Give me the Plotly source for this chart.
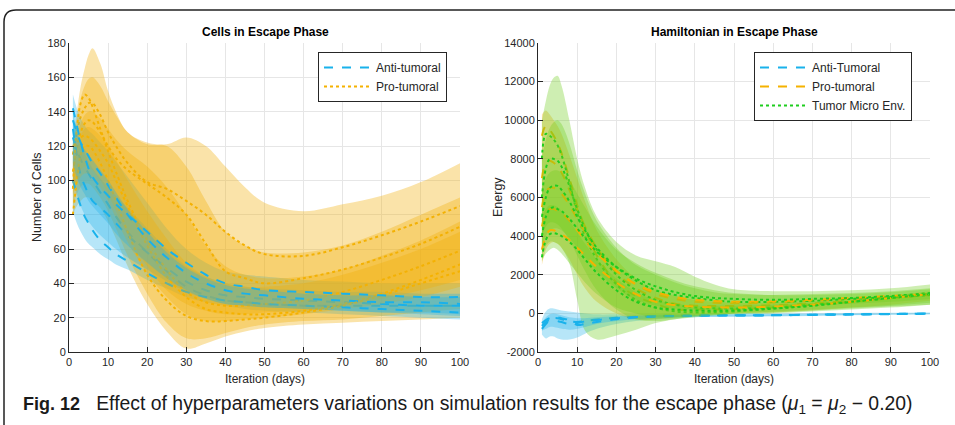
import plotly.graph_objects as go
from itertools import zip_longest

# ---------------- data ----------------
X = [1, 2, 3, 4, 5, 6, 8, 10, 12, 15, 20, 25, 30, 35, 40, 45, 50, 60, 70, 80, 90, 100]

# Left panel: Cells in Escape Phase
anti_lines = [
    [125, 118, 112, 108, 104, 100, 93, 86, 79, 70, 58, 47, 38, 33, 30, 29, 28, 27, 27, 27, 27, 27],
    [130, 115, 103, 97, 92, 88, 84, 80, 75, 68, 58, 49, 41, 36, 33, 32, 31, 30, 29, 28, 27, 27],
    [100, 92, 85, 79, 75, 71, 65, 61, 57, 53, 46, 40, 35, 32, 30, 29, 28, 27, 26, 25, 24, 23],
    [135, 128, 122, 118, 114, 110, 104, 97, 90, 80, 66, 55, 46, 40, 36, 34, 33, 31, 30, 29, 29, 28],
    [142, 132, 122, 114, 107, 102, 96, 91, 86, 80, 70, 60, 52, 45, 40, 38, 36, 35, 34, 33, 32, 32],
]
anti_bands = [
    ([82, 75, 70, 66, 63, 61, 57, 54, 51, 48, 42, 37, 32, 29, 27, 25, 24, 23, 22, 21, 20, 19],
     [150, 142, 136, 132, 129, 127, 122, 117, 111, 102, 87, 72, 60, 52, 47, 45, 44, 42, 41, 40, 40, 40]),
    ([100, 92, 85, 80, 76, 73, 68, 64, 60, 55, 48, 41, 35, 31, 28, 27, 26, 25, 24, 23, 22, 21],
     [140, 130, 122, 116, 111, 107, 101, 96, 91, 84, 72, 60, 50, 44, 40, 38, 37, 36, 35, 35, 34, 34]),
    None,
    None,
    ([110, 102, 96, 92, 88, 85, 80, 75, 69, 62, 52, 43, 36, 31, 28, 27, 26, 25, 24, 23, 23, 22],
     [135, 128, 122, 118, 115, 112, 106, 100, 93, 83, 70, 58, 49, 43, 39, 37, 36, 34, 33, 33, 32, 32]),
]
pro_lines = [
    [115, 128, 137, 142, 145, 145, 138, 128, 120, 110, 99, 95, 88, 80, 70, 62, 57, 56, 61, 68, 76, 85],
    [105, 118, 128, 133, 135, 134, 128, 120, 113, 106, 98, 90, 80, 63, 47, 43, 40, 43, 48, 55, 63, 73],
    [95, 130, 145, 150, 148, 143, 130, 117, 105, 88, 65, 48, 35, 29, 27, 27, 28, 30, 35, 42, 50, 59],
    [120, 122, 125, 126, 125, 123, 117, 110, 100, 85, 62, 44, 32, 25, 23, 22, 22, 24, 28, 34, 42, 51],
    [80, 100, 115, 120, 120, 118, 110, 100, 88, 70, 45, 30, 21, 18, 18, 19, 20, 23, 27, 33, 40, 47],
]
pro_bands = [
    ([80, 85, 88, 90, 90, 88, 84, 76, 66, 50, 28, 12, 2, 5, 9, 12, 14, 16, 17, 18, 19, 20],
     [125, 140, 155, 165, 173, 177, 168, 152, 140, 128, 122, 121, 125, 120, 108, 96, 87, 82, 86, 91, 99, 110]),
    ([85, 92, 96, 98, 98, 96, 90, 82, 72, 56, 34, 17, 8, 8, 11, 14, 16, 18, 19, 21, 23, 25],
     [120, 135, 148, 155, 159, 160, 155, 146, 138, 128, 121, 120, 108, 88, 70, 62, 58, 58, 62, 70, 80, 90]),
    ([92, 98, 102, 104, 104, 102, 96, 88, 78, 64, 46, 32, 22, 18, 18, 19, 20, 22, 25, 28, 32, 38],
     [112, 125, 133, 138, 140, 140, 136, 130, 124, 117, 108, 96, 80, 62, 50, 45, 43, 44, 48, 56, 65, 76]),
    ([95, 102, 106, 108, 108, 106, 100, 92, 82, 68, 50, 36, 28, 24, 22, 22, 23, 24, 27, 31, 36, 42],
     [108, 118, 126, 130, 131, 130, 126, 120, 112, 100, 82, 66, 52, 44, 40, 38, 38, 40, 45, 52, 60, 70]),
    None,
]

# Right panel: Hamiltonian in Escape Phase
h_anti_lines = [
    [-800, -550, -350, -250, -250, -300, -400, -450, -400, -320, -230, -180, -140, -120, -110, -100, -100, -90, -70, -50, -30, -10],
    [-500, -350, -250, -200, -200, -250, -350, -600, -550, -450, -300, -220, -170, -140, -120, -110, -110, -100, -80, -60, -40, -20],
    [-650, -450, -350, -350, -400, -450, -550, -500, -420, -350, -250, -190, -150, -130, -115, -105, -100, -90, -70, -50, -30, -10],
]
h_anti_bands = [
    ([-1100, -1300, -1200, -1200, -1300, -1350, -1350, -1250, -1050, -800, -550, -400, -300, -250, -200, -190, -180, -160, -130, -100, -70, -50],
     [-300, 100, 250, 250, 200, 150, 100, 50, 0, -50, -50, -50, -40, -30, -20, -10, 0, 0, 10, 20, 30, 40]),
    ([-900, -800, -700, -700, -750, -800, -850, -800, -700, -550, -400, -300, -250, -200, -180, -170, -160, -140, -110, -80, -60, -40],
     [-500, -200, -50, 0, -50, -100, -200, -250, -250, -200, -150, -120, -100, -90, -80, -70, -60, -50, -40, -30, -20, -10]),
    None,
]
h_pro_lines = [
    [9200, 9700, 9500, 9200, 8800, 8300, 7000, 5600, 4400, 3000, 1600, 900, 500, 200, 200, 200, 220, 300, 450, 600, 780, 950],
    [7000, 7800, 7900, 7800, 7600, 7300, 6400, 5400, 4500, 3400, 2100, 1300, 800, 500, 400, 380, 380, 420, 520, 650, 800, 950],
    [5500, 6300, 6500, 6500, 6400, 6200, 5600, 4900, 4200, 3300, 2200, 1500, 1000, 750, 600, 550, 520, 560, 650, 750, 850, 1000],
    [4500, 5200, 5400, 5400, 5300, 5200, 4800, 4300, 3800, 3100, 2200, 1500, 1100, 850, 700, 640, 600, 620, 700, 800, 900, 1000],
    [3300, 4000, 4300, 4300, 4200, 4100, 3800, 3400, 3000, 2400, 1600, 1000, 600, 420, 350, 320, 300, 350, 450, 600, 800, 1000],
]
h_pro_bands = [
    ([2500, 3300, 3600, 3700, 3600, 3400, 2800, 2000, 1300, 600, 0, -300, -300, -200, -100, -50, 0, 50, 150, 300, 450, 650],
     [10300, 10500, 10300, 10000, 9700, 9300, 8200, 7000, 5800, 4300, 2800, 1800, 1200, 900, 700, 600, 550, 550, 650, 800, 950, 1150]),
    None, None, None, None,
]
h_tme_lines = [
    [8000, 9300, 9200, 9000, 8700, 8200, 6800, 5200, 4000, 2800, 1500, 700, 300, 100, 50, 60, 100, 250, 400, 600, 800, 1000],
    [6000, 7500, 8000, 8000, 7900, 7600, 6600, 5400, 4400, 3300, 2000, 1200, 700, 450, 300, 260, 250, 300, 450, 600, 800, 950],
    [5000, 6000, 6500, 6600, 6600, 6400, 5800, 5000, 4300, 3400, 2400, 1700, 1200, 950, 800, 680, 600, 600, 650, 750, 850, 1000],
    [4000, 5000, 5400, 5500, 5400, 5300, 4900, 4400, 3900, 3200, 2400, 1800, 1400, 1100, 900, 800, 750, 700, 750, 800, 900, 1050],
    [2900, 3800, 4100, 4150, 4100, 4000, 3700, 3300, 2800, 2100, 1200, 600, 300, 200, 150, 140, 150, 250, 400, 600, 800, 1000],
]
h_tme_bands = [
    ([3000, 3500, 3700, 3700, 3600, 3400, 2600, 700, -900, -1350, -1150, -850, -500, -300, -150, -50, 0, 50, 150, 250, 350, 450],
     [10000, 11000, 11800, 12200, 12300, 11800, 10000, 8000, 6500, 5000, 3700, 3000, 2700, 2400, 1900, 1500, 1250, 1150, 1150, 1200, 1300, 1500]),
    ([4000, 4500, 4700, 4700, 4600, 4400, 3800, 3000, 2200, 1200, 200, -300, -400, -300, -200, -100, 0, 100, 200, 300, 400, 550],
     [8000, 9000, 9600, 9900, 10000, 9800, 8800, 7400, 6200, 4800, 3400, 2500, 2000, 1600, 1300, 1100, 1000, 950, 1000, 1050, 1150, 1300]),
    ([3500, 4000, 4300, 4400, 4400, 4300, 3900, 3400, 2900, 2200, 1300, 700, 400, 250, 200, 200, 250, 300, 400, 500, 600, 750],
     [6500, 7000, 7300, 7400, 7400, 7300, 6900, 6200, 5500, 4500, 3300, 2600, 2100, 1700, 1400, 1200, 1050, 950, 950, 1000, 1100, 1250]),
    ([2700, 3100, 3300, 3400, 3300, 3100, 2600, 2100, 1600, 1000, 300, 0, -200, -200, -150, -100, -50, 0, 100, 200, 300, 450],
     [5000, 5400, 5600, 5600, 5500, 5300, 4800, 4200, 3600, 2800, 1800, 1100, 700, 500, 400, 400, 400, 450, 550, 650, 800, 950]),
    None,
]

X_TICKS = list(range(0, 101, 10))
Y1_TICKS = list(range(0, 181, 20))
Y2_TICKS = list(range(-2000, 14001, 2000))
Y2_TICKTEXT = [str(v) for v in Y2_TICKS]

# ---------------- styles ----------------
BLUE = "rgb(25,178,235)"
BLUE_F = "rgba(30,176,232,0.32)"
ORANGE = "rgb(245,178,0)"
ORANGE_F = "rgba(240,176,10,0.35)"
GREEN = "rgb(30,205,30)"
GREEN_F = "rgba(110,205,30,0.34)"
TXT = "#262626"
FONT = "Liberation Sans, Arial, sans-serif"

fig = go.Figure()


def add_band(band, fill, xa, ya):
    if band is None:
        return
    lo, hi = band
    fig.add_trace(go.Scatter(x=X, y=lo, mode="lines", line=dict(width=0, shape="spline"),
                             showlegend=False, hoverinfo="skip", xaxis=xa, yaxis=ya))
    fig.add_trace(go.Scatter(x=X, y=hi, mode="lines", line=dict(width=0, shape="spline"),
                             fill="tonexty", fillcolor=fill, showlegend=False,
                             hoverinfo="skip", xaxis=xa, yaxis=ya))


def add_line(y, color, dash, name, xa, ya, legend):
    if y is None:
        return
    fig.add_trace(go.Scatter(x=X, y=y, mode="lines", name=name,
                             line=dict(color=color, width=2, dash=dash, shape="spline"),
                             showlegend=False, legend=legend, xaxis=xa, yaxis=ya))


# Left panel
for pb, pl, ab, al in zip_longest(pro_bands, pro_lines, anti_bands, anti_lines):
    add_band(pb, ORANGE_F, "x", "y")
    add_line(pl, ORANGE, "dot", "Pro-tumoral", "x", "y", "legend")
    add_band(ab, BLUE_F, "x", "y")
    add_line(al, BLUE, "dash", "Anti-tumoral", "x", "y", "legend")

for nm, col, ds in [("Anti-tumoral", BLUE, "dash"), ("Pro-tumoral", ORANGE, "dot")]:
    fig.add_trace(go.Scatter(x=[None], y=[None], mode="lines", name=nm,
                             line=dict(color=col, width=2, dash=ds), legend="legend",
                             xaxis="x", yaxis="y"))

# Right panel
for ab, al, pb, pl, tb, tl in zip_longest(h_anti_bands, h_anti_lines, h_pro_bands,
                                          h_pro_lines, h_tme_bands, h_tme_lines):
    add_band(ab, BLUE_F, "x2", "y2")
    add_line(al, BLUE, "dash", "Anti-Tumoral", "x2", "y2", "legend2")
    add_band(pb, ORANGE_F, "x2", "y2")
    add_line(pl, ORANGE, "dash", "Pro-tumoral", "x2", "y2", "legend2")
    add_band(tb, GREEN_F, "x2", "y2")
    add_line(tl, GREEN, "dot", "Tumor Micro Env.", "x2", "y2", "legend2")

for nm, col, ds in [("Anti-Tumoral", BLUE, "dash"), ("Pro-tumoral", ORANGE, "dash"),
                    ("Tumor Micro Env.", GREEN, "dot")]:
    fig.add_trace(go.Scatter(x=[None], y=[None], mode="lines", name=nm,
                             line=dict(color=col, width=2, dash=ds), legend="legend2",
                             xaxis="x2", yaxis="y2"))

W, H = 955, 425


def px(v):
    return v / W


def py(v):
    return 1 - v / H


ax_common = dict(showgrid=True, gridcolor="#e6e6e6", gridwidth=1, showline=True,
                 linecolor=TXT, linewidth=1, ticks="inside", ticklen=5, tickcolor=TXT,
                 tickfont=dict(family=FONT, size=11, color=TXT), zeroline=False, mirror=False)

Y_BOT, Y_TOP = 352, 43
leg_common = dict(xanchor="left", yanchor="top", bgcolor="white", bordercolor=TXT, borderwidth=1,
                  font=dict(family=FONT, size=12, color=TXT), tracegroupgap=0, traceorder="normal",
                  itemwidth=47)
fig.update_layout(
    width=W, height=H, margin=dict(l=0, r=0, t=0, b=0, autoexpand=False),
    paper_bgcolor="white", plot_bgcolor="white",
    xaxis=dict(domain=[px(69), px(460)], range=[0, 100], tickvals=X_TICKS, anchor="y", **ax_common),
    yaxis=dict(domain=[py(Y_BOT), py(Y_TOP)], range=[0, 180], tickvals=Y1_TICKS, anchor="x", **ax_common),
    xaxis2=dict(domain=[px(538), px(930)], range=[0, 100], tickvals=X_TICKS, anchor="y2", **ax_common),
    yaxis2=dict(domain=[py(Y_BOT), py(Y_TOP)], range=[-2000, 14000], tickvals=Y2_TICKS,
                ticktext=Y2_TICKTEXT, anchor="x2", **ax_common),
    legend=dict(x=px(318), y=py(52), **leg_common),
    legend2=dict(x=px(754), y=py(52), **leg_common),
    showlegend=True,
)


def A(text, x, y, size, color=TXT, angle=0, xanchor="center", family=FONT):
    return dict(text=text, x=px(x), y=py(y), xref="paper", yref="paper", xanchor=xanchor,
                yanchor="middle", textangle=angle, showarrow=False,
                font=dict(family=family, size=size, color=color))


ann = [
    A("<b>Cells in Escape Phase</b>", 265, 32, 12, "black"),
    A("<b>Hamiltonian in Escape Phase</b>", 734, 32, 12, "black"),
    A("Iteration (days)", 265, 379, 12),
    A("Iteration (days)", 734, 379, 12),
    A("Number of Cells", 37, 197, 12.5, angle=-90),
    A("Energy", 498, 197, 12.5, angle=-90),
    A("<span style='font-size:18px'><b>Fig. 12</b></span>   Effect of hyperparameters variations on "
      "simulation results for the escape phase (<i>μ</i><sub>1</sub> = <i>μ</i><sub>2</sub> − 0.20)",
      21, 404, 19.4, "#1a1a1a", xanchor="left"),
]
fig.update_layout(annotations=ann)

fig.add_shape(type="path", xref="paper", yref="paper",
              path=f"M {px(4)},{py(430)} L {px(4)},{py(22)} Q {px(4)},{py(10)} {px(16)},{py(10)} L 1.01,{py(10)}",
              line=dict(color="#222", width=1.5))

fig.write_html("out.html")
